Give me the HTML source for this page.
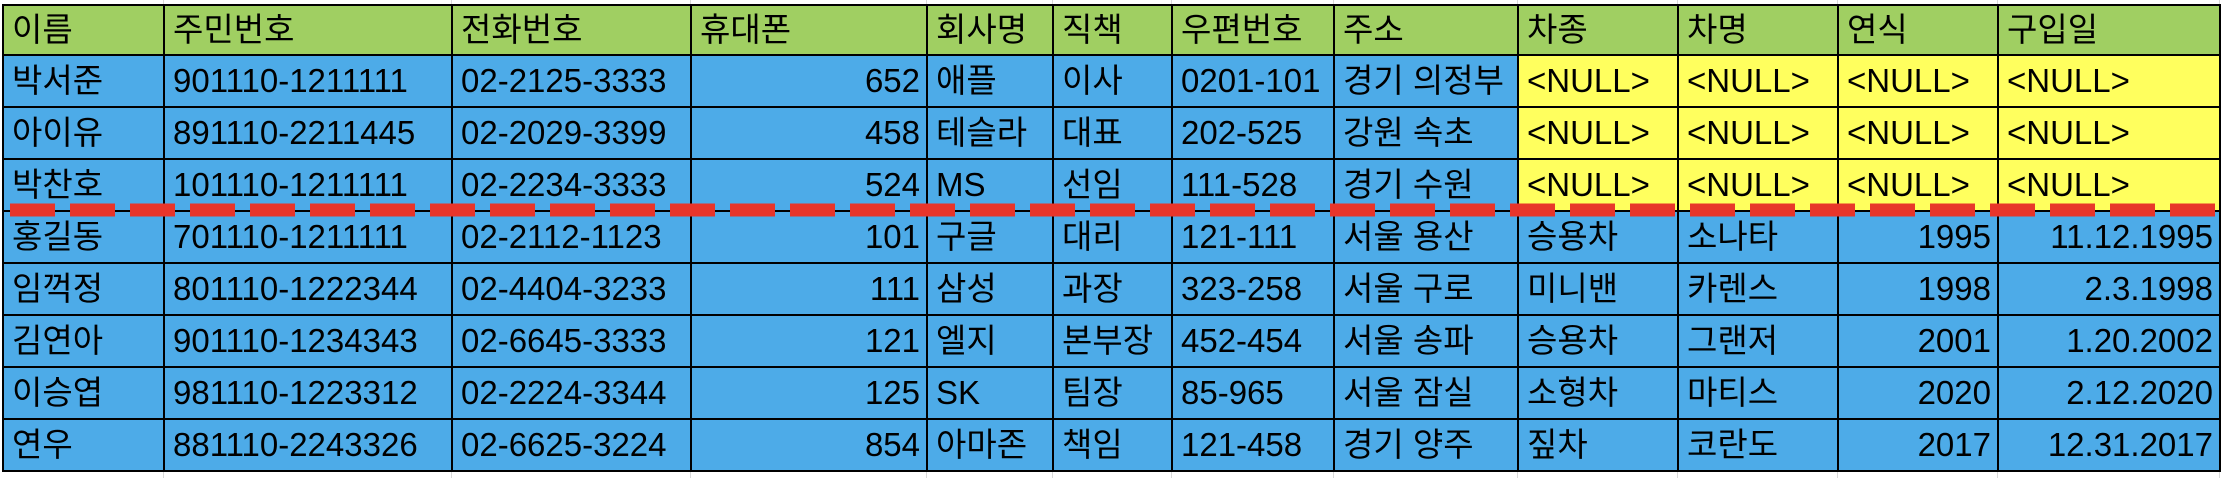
<!DOCTYPE html>
<html><head><meta charset="utf-8">
<style>
html,body{margin:0;padding:0;background:#fff;width:2224px;height:478px;overflow:hidden;position:relative}
.grid{position:absolute;top:0;width:1px;height:478px;background:#d9d9d9}
table{position:absolute;left:2px;top:4px;border-collapse:collapse;table-layout:fixed;font-family:"Liberation Sans","Noto Sans CJK KR",sans-serif;font-size:33px;color:#000}
td{border:2.5px solid #000;height:50px;padding:0 6px 0 8px;white-space:nowrap;overflow:hidden;background:#4dabe8;line-height:50px;box-sizing:content-box}
tr.h td{background:#a0cf62;height:48px;line-height:48px}
td.y{background:#ffff5e}
td.r{text-align:right}
#dash{position:absolute;left:0;top:0}
</style></head><body>
<div class="grid" style="left:163px"></div><div class="grid" style="left:451px"></div><div class="grid" style="left:690px"></div><div class="grid" style="left:926px"></div><div class="grid" style="left:1052px"></div><div class="grid" style="left:1171px"></div><div class="grid" style="left:1333px"></div><div class="grid" style="left:1517px"></div><div class="grid" style="left:1677px"></div><div class="grid" style="left:1837px"></div><div class="grid" style="left:1997px"></div><div class="grid" style="left:2219px"></div>
<table>
<colgroup><col style="width:161px"><col style="width:288px"><col style="width:239px"><col style="width:236px"><col style="width:126px"><col style="width:119px"><col style="width:162px"><col style="width:184px"><col style="width:160px"><col style="width:160px"><col style="width:160px"><col style="width:222px"></colgroup>
<tr class="h"><td>이름</td><td>주민번호</td><td>전화번호</td><td>휴대폰</td><td>회사명</td><td>직책</td><td>우편번호</td><td>주소</td><td>차종</td><td>차명</td><td>연식</td><td>구입일</td></tr>
<tr><td>박서준</td><td>901110-1211111</td><td>02-2125-3333</td><td class="r">652</td><td>애플</td><td>이사</td><td>0201-101</td><td>경기 의정부</td><td class="y">&lt;NULL&gt;</td><td class="y">&lt;NULL&gt;</td><td class="y">&lt;NULL&gt;</td><td class="y">&lt;NULL&gt;</td></tr>
<tr><td>아이유</td><td>891110-2211445</td><td>02-2029-3399</td><td class="r">458</td><td>테슬라</td><td>대표</td><td>202-525</td><td>강원 속초</td><td class="y">&lt;NULL&gt;</td><td class="y">&lt;NULL&gt;</td><td class="y">&lt;NULL&gt;</td><td class="y">&lt;NULL&gt;</td></tr>
<tr><td>박찬호</td><td>101110-1211111</td><td>02-2234-3333</td><td class="r">524</td><td>MS</td><td>선임</td><td>111-528</td><td>경기 수원</td><td class="y">&lt;NULL&gt;</td><td class="y">&lt;NULL&gt;</td><td class="y">&lt;NULL&gt;</td><td class="y">&lt;NULL&gt;</td></tr>
<tr><td>홍길동</td><td>701110-1211111</td><td>02-2112-1123</td><td class="r">101</td><td>구글</td><td>대리</td><td>121-111</td><td>서울 용산</td><td>승용차</td><td>소나타</td><td class="r">1995</td><td class="r">11.12.1995</td></tr>
<tr><td>임꺽정</td><td>801110-1222344</td><td>02-4404-3233</td><td class="r">111</td><td>삼성</td><td>과장</td><td>323-258</td><td>서울 구로</td><td>미니밴</td><td>카렌스</td><td class="r">1998</td><td class="r">2.3.1998</td></tr>
<tr><td>김연아</td><td>901110-1234343</td><td>02-6645-3333</td><td class="r">121</td><td>엘지</td><td>본부장</td><td>452-454</td><td>서울 송파</td><td>승용차</td><td>그랜저</td><td class="r">2001</td><td class="r">1.20.2002</td></tr>
<tr><td>이승엽</td><td>981110-1223312</td><td>02-2224-3344</td><td class="r">125</td><td>SK</td><td>팀장</td><td>85-965</td><td>서울 잠실</td><td>소형차</td><td>마티스</td><td class="r">2020</td><td class="r">2.12.2020</td></tr>
<tr><td>연우</td><td>881110-2243326</td><td>02-6625-3224</td><td class="r">854</td><td>아마존</td><td>책임</td><td>121-458</td><td>경기 양주</td><td>짚차</td><td>코란도</td><td class="r">2017</td><td class="r">12.31.2017</td></tr>
</table>
<svg id="dash" width="2224" height="478"><line x1="10" y1="210" x2="2215" y2="210" stroke="#e8352a" stroke-width="13" stroke-dasharray="45 15"/></svg>
</body></html>
